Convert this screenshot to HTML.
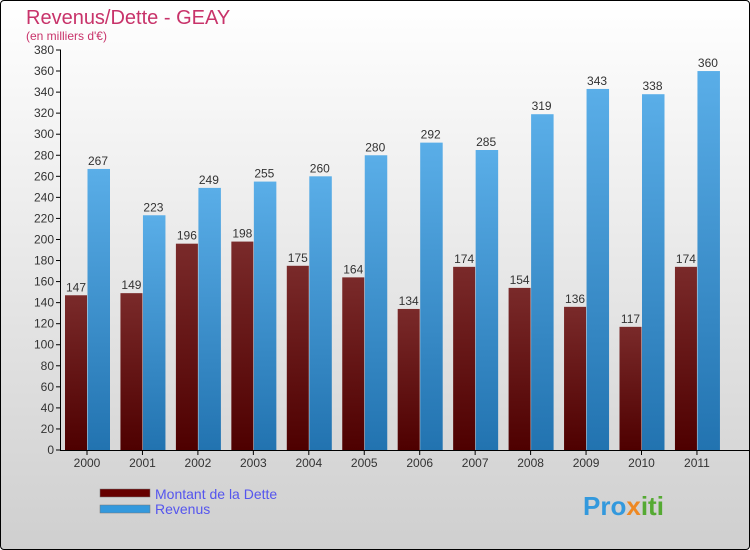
<!DOCTYPE html>
<html><head><meta charset="utf-8"><style>
body{margin:0}
#wrap{position:relative;width:748px;height:548px;border:1px solid #000;border-radius:4px;background:linear-gradient(#fff,#cfcfcf);overflow:hidden;font-family:"Liberation Sans",sans-serif}
</style></head><body>
<div id="wrap">
<svg id="c" width="750" height="550" style="position:absolute;left:-1px;top:-1px">
<defs>
<linearGradient id="gd" x1="0" y1="0" x2="0" y2="1"><stop offset="0" stop-color="#7a2a2a"/><stop offset="1" stop-color="#4e0000"/></linearGradient>
<linearGradient id="gr" x1="0" y1="0" x2="0" y2="1"><stop offset="0" stop-color="#5aaee8"/><stop offset="1" stop-color="#2273b0"/></linearGradient>
</defs>
<text x="26" y="24" font-size="20" fill="#c8336a">Revenus/Dette - GEAY</text>
<text x="26" y="40" font-size="12" fill="#c8336a">(en milliers d'€)</text>
<g id="g"></g>
<rect x="100" y="489" width="50" height="8" fill="#660000" stroke="#777" stroke-width="0.5"/>
<text x="155" y="499" font-size="14" fill="#5555ee">Montant de la Dette</text>
<rect x="100" y="505" width="50" height="8" fill="#3399dd" stroke="#777" stroke-width="0.5"/>
<text x="155" y="514" font-size="14" fill="#5555ee">Revenus</text>
<text x="583" y="515" font-size="26" font-weight="bold" fill="#3399dd">Pro<tspan fill="#ee8822">x</tspan><tspan fill="#55aa33">iti</tspan></text>
</svg>
</div>
<script>
const years=["2000","2001","2002","2003","2004","2005","2006","2007","2008","2009","2010","2011"];
const dette=[147,149,196,198,175,164,134,174,154,136,117,174];
const revenus=[267,223,249,255,260,280,292,285,319,343,338,360];
const yTicks=[0,20,40,60,80,100,120,140,160,180,200,220,240,260,280,300,320,340,360,380];
const NS="http://www.w3.org/2000/svg";
const g=document.getElementById('g');
const y0=450,yMax=380,h=400;
const ys=v=>y0-v*h/yMax;
const xs=i=>87+i*55.45;
function mk(t,a){const e=document.createElementNS(NS,t);for(const k in a)e.setAttribute(k,a[k]);g.appendChild(e);return e;}
yTicks.forEach(t=>{
const l=mk('line',{x1:56,x2:61,y1:ys(t),y2:ys(t),stroke:'#000'});


const tx=mk('text',{x:54,y:ys(t)+4,'text-anchor':'end','font-size':12,fill:'#333'});tx.textContent=t;


});
years.forEach((yr,i)=>{
const cx=xs(i);
const b1=mk('rect',{x:cx-22,y:ys(dette[i]),width:22,height:y0-ys(dette[i]),fill:'url(#gd)'});


const b2=mk('rect',{x:cx+0.5,y:ys(revenus[i]),width:22.5,height:y0-ys(revenus[i]),fill:'url(#gr)'});


const t1=mk('text',{x:cx-11,y:ys(dette[i])-4,'text-anchor':'middle','font-size':12,fill:'#333'});t1.textContent=dette[i];


const t2=mk('text',{x:cx+11,y:ys(revenus[i])-4,'text-anchor':'middle','font-size':12,fill:'#333'});t2.textContent=revenus[i];


const tk=mk('line',{x1:cx,x2:cx,y1:450,y2:455,stroke:'#000'});


const xl=mk('text',{x:cx,y:467,'text-anchor':'middle','font-size':12,fill:'#333'});xl.textContent=yr;


});
const ya=mk('line',{x1:60.5,x2:60.5,y1:50,y2:450,stroke:'#000'});


const xa=mk('line',{x1:60,x2:750,y1:450.5,y2:450.5,stroke:'#000'});


</script>
</body></html>
